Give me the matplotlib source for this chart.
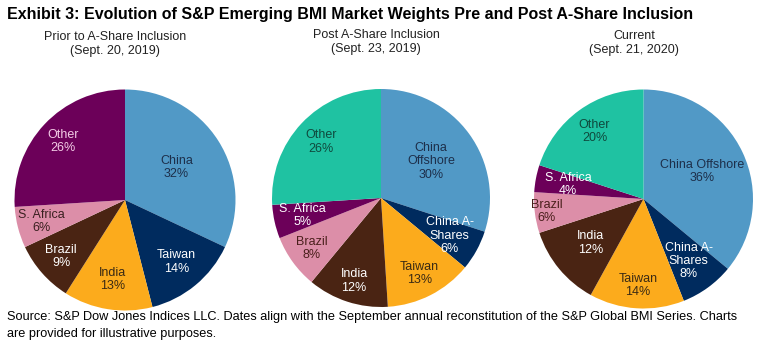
import matplotlib
matplotlib.use("Agg")
import matplotlib.pyplot as plt
import numpy as np

plt.rcParams['font.family'] = ['Liberation Sans', 'DejaVu Sans']

# data
labels1 = ['China', 'Taiwan', 'India', 'Brazil', 'S. Africa', 'Other']
values1 = [32, 14, 13, 9, 6, 26]
labels2 = ['China\nOffshore', 'China A-\nShares', 'Taiwan', 'India', 'Brazil', 'S. Africa', 'Other']
values2 = [30, 6, 13, 12, 8, 5, 26]
labels3 = ['China Offshore', 'China A-\nShares', 'Taiwan', 'India', 'Brazil', 'S. Africa', 'Other']
values3 = [36, 8, 14, 12, 6, 4, 20]
subtitles = ['Prior to A-Share Inclusion\n(Sept. 20, 2019)',
             'Post A-Share Inclusion\n(Sept. 23, 2019)',
             'Current\n(Sept. 21, 2020)']

# styling
lblue, navy, orange, brown, pink, purple, teal = '#5199c6', '#002b5e', '#fcab1c', '#4a2413', '#dc8ea8', '#6c0059', '#1fc2a2'
dark = '#1d2f4a'
colors1 = [lblue, navy, orange, brown, pink, purple]
colors2 = [lblue, navy, orange, brown, pink, purple, teal]
tcol1 = [dark, 'white', '#3a2a14', 'white', '#3a2020', '#f3cce6']
tcol2 = [dark, 'white', '#3a2a14', 'white', '#4a1f1c', 'white', '#0f4a3e']
radii1 = [0.55, 0.73, 0.73, 0.77, 0.78, 0.77]
radii2 = [0.57, 0.72, 0.78, 0.8, 0.79, 0.74, 0.75]
radii3 = [0.59, 0.7, 0.79, 0.63, 0.89, 0.7, 0.76]

W, H = 762, 353
fig = plt.figure(figsize=(W / 100, H / 100), dpi=100)

# (center x, center y, radius) in pixels
geo = [(125, 200, 110.5), (381, 198, 109), (643.5, 199, 109.5)]
sub_x = [115, 376, 634]
sub_y = [31, 29, 30]
sets = [(labels1, values1, colors1, tcol1, radii1),
        (labels2, values2, colors2, tcol2, radii2),
        (labels3, values3, colors2, tcol2, radii3)]

for i, ((cx, cy, r), (labs, vals, cols, tcols, rads), sub) in enumerate(zip(geo, sets, subtitles)):
    ax = fig.add_axes([(cx - r) / W, (H - cy - r) / H, 2 * r / W, 2 * r / H])
    wedges, _ = ax.pie(vals, colors=cols, startangle=90, counterclock=False,
                       wedgeprops=dict(linewidth=0))
    ax.set_xlim(-1, 1)
    ax.set_ylim(-1, 1)
    ax.axis('off')
    for w, lab, v, tc, rd in zip(wedges, labs, vals, tcols, rads):
        ang = np.deg2rad((w.theta1 + w.theta2) / 2)
        ax.text(rd * np.cos(ang), rd * np.sin(ang), '%s\n%d%%' % (lab, v),
                ha='center', va='center', fontsize=9, color=tc, linespacing=1.15)
    fig.text(sub_x[i] / W, 1 - sub_y[i] / H, sub, ha='center', va='top', fontsize=9,
             color='#222222', linespacing=1.2)

fig.text(7 / W, 1 - 14 / H, 'Exhibit 3: Evolution of S&P Emerging BMI Market Weights Pre and Post A-Share Inclusion',
         ha='left', va='center', fontsize=11.5, fontweight='bold', color='black')
fig.text(7 / W, 1 - 311 / H,
         'Source: S&P Dow Jones Indices LLC. Dates align with the September annual reconstitution of the S&P Global BMI Series. Charts\nare provided for illustrative purposes.',
         ha='left', va='top', fontsize=9.2, color='black', linespacing=1.5)

fig.savefig('out.png', dpi=100)
